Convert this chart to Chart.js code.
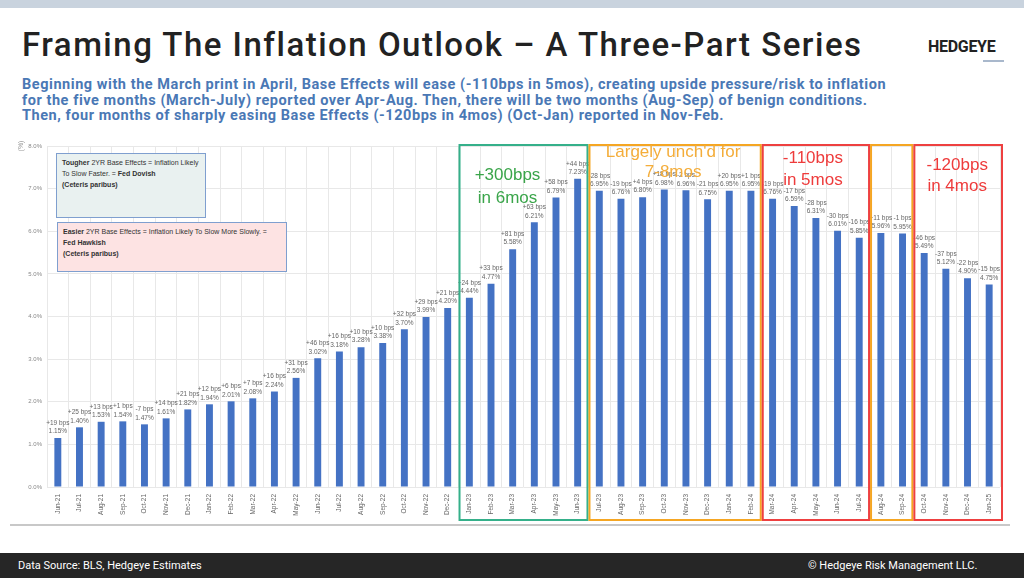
<!DOCTYPE html>
<html>
<head>
<meta charset="utf-8">
<script src="https://cdn.jsdelivr.net/npm/chart.js@4.4.0/dist/chart.umd.min.js"></script>
<style>
  body { margin: 0; width: 1024px; height: 578px; overflow: hidden; background: #fff; position: relative; font-family: Roboto, sans-serif; }
  #topband { position: absolute; left: 0; top: 0; width: 1024px; height: 8px; background: #c9d3de; }
  #title { position: absolute; left: 22px; top: 25px; font-size: 33px; font-weight: 500; color: #222; white-space: nowrap; letter-spacing: 1.5px; }
  #logo { position: absolute; left: 928px; top: 37px; font-size: 16px; font-weight: 700; color: #222; letter-spacing: -0.3px; }
  #logoBar { position: absolute; left: 983px; top: 60px; width: 21px; height: 2px; background: #a9b8cc; }
  #subtitle { position: absolute; left: 22px; top: 77px; font-size: 14.5px; font-weight: 700; color: #4a78b5; line-height: 15.5px; white-space: nowrap; letter-spacing: 0.55px; }
  #chartWrap { position: absolute; left: 0; top: 130px; width: 1024px; height: 400px; }
  .note { position: absolute; font-family: "Liberation Sans", Arial, sans-serif; font-size: 7px; line-height: 11px; color: #333; padding: 3px 5px; box-sizing: border-box; border: 1.5px solid #7f9fcf; }
  #note1 { left: 56px; top: 153px; width: 150px; height: 65px; background: #e9f1f0; }
  #note2 { left: 57px; top: 222px; width: 230px; height: 50px; background: #fde3e3; }
  #rule { position: absolute; left: 10px; top: 524px; width: 1000px; height: 2px; background: #c8c8c8; }
  #footer { position: absolute; left: 0; top: 553px; width: 1024px; height: 25px; background: #262626; color: #fff; font-size: 11px; }
  #footer .l { position: absolute; left: 18px; top: 6px; }
  #footer .r { position: absolute; left: 808px; top: 6px; }
</style>
</head>
<body>
<div id="topband"></div>
<div id="title">Framing The Inflation Outlook – A Three-Part Series</div>
<div id="logo">HEDGEYE</div>
<div id="logoBar"></div>
<div id="subtitle">Beginning with the March print in April, Base Effects will ease (-110bps in 5mos), creating upside pressure/risk to inflation<br>for the five months (March-July) reported over Apr-Aug. Then, there will be two months (Aug-Sep) of benign conditions.<br>Then, four months of sharply easing Base Effects (-120bps in 4mos) (Oct-Jan) reported in Nov-Feb.</div>
<div id="chartWrap"><canvas id="chart" width="1024" height="400"></canvas></div>
<div class="note" id="note1"><b>Tougher</b> 2YR Base Effects = Inflation Likely<br>To Slow Faster. = <b>Fed Dovish</b><br><b>(Ceteris paribus)</b></div>
<div class="note" id="note2"><b>Easier</b> 2YR Base Effects = Inflation Likely To Slow More Slowly. =<br><b>Fed Hawkish</b><br><b>(Ceteris paribus)</b></div>
<div id="rule"></div>
<div id="footer"><span class="l">Data Source: BLS, Hedgeye Estimates</span><span class="r">© Hedgeye Risk Management LLC.</span></div>

<script>
const months = [
    'Jun-21', 'Jul-21', 'Aug-21', 'Sep-21', 'Oct-21', 'Nov-21', 'Dec-21',
    'Jan-22', 'Feb-22', 'Mar-22', 'Apr-22', 'May-22', 'Jun-22', 'Jul-22', 'Aug-22', 'Sep-22', 'Oct-22', 'Nov-22', 'Dec-22',
    'Jan-23', 'Feb-23', 'Mar-23', 'Apr-23', 'May-23', 'Jun-23', 'Jul-23', 'Aug-23', 'Sep-23', 'Oct-23', 'Nov-23', 'Dec-23',
    'Jan-24', 'Feb-24', 'Mar-24', 'Apr-24', 'May-24', 'Jun-24', 'Jul-24', 'Aug-24', 'Sep-24', 'Oct-24', 'Nov-24', 'Dec-24',
    'Jan-25'
];
const inflationValues = [
    1.15, 1.40, 1.53, 1.54, 1.47, 1.61, 1.82,
    1.94, 2.01, 2.08, 2.24, 2.56, 3.02, 3.18, 3.28, 3.38, 3.70, 3.99, 4.20,
    4.44, 4.77, 5.58, 6.21, 6.79, 7.23, 6.95, 6.76, 6.80, 6.98, 6.96, 6.75,
    6.95, 6.95, 6.76, 6.59, 6.31, 6.01, 5.85, 5.96, 5.95, 5.49, 5.12, 4.90,
    4.75
];
const bpsChanges = [
    19, 25, 13, 1, -7, 14, 21,
    12, 6, 7, 16, 31, 46, 16, 10, 10, 32, 29, 21,
    24, 33, 81, 63, 58, 44, -28, -19, 4, 18, -2, -21,
    20, 1, -19, -17, -28, -30, -16, 11, -1, -46, -37, -22,
    -15
];
const yTicks = [0, 1, 2, 3, 4, 5, 6, 7, 8];

// highlighted periods
const periods = [
    { from: 'Jan-23', to: 'Jun-23', color: '#35b08a', text: ['+300bps', 'in 6mos'], textColor: '#3aa54a', dx: -16, ty: [45, 68] },
    { from: 'Jul-23', to: 'Feb-24', color: '#f5a623', text: ["Largely unch'd for", '7-8mos'], textColor: '#f4ad3a', dx: -2, ty: [22, 42] },
    { from: 'Mar-24', to: 'Jul-24', color: '#ee4040', text: ['-110bps', 'in 5mos'], textColor: '#ee3b3b', dx: -3, ty: [28, 50] },
    { from: 'Aug-24', to: 'Sep-24', color: '#f5a623', text: [], textColor: '#f4ad3a', dx: 0, ty: [] },
    { from: 'Oct-24', to: 'Jan-25', color: '#ee4040', text: ['-120bps', 'in 4mos'], textColor: '#ee3b3b', dx: -1, ty: [35, 56] }
];

function fmtBps(v) {
    return (v >= 0 ? '+' : '') + v + ' bps';
}

const overlayPlugin = {
    id: 'overlay',
    afterDatasetsDraw(chart) {
        const ctx = chart.ctx;
        const x = chart.scales.x;
        ctx.save();
        ctx.font = '6.5px "Liberation Sans", Arial, sans-serif';
        ctx.fillStyle = '#666';
        ctx.textAlign = 'center';
        ctx.textBaseline = 'middle';
        chart.getDatasetMeta(0).data.forEach((bar, i) => {
            ctx.fillText(fmtBps(bpsChanges[i]), bar.x, bar.y - 15);
            ctx.fillText(inflationValues[i].toFixed(2) + '%', bar.x, bar.y - 6.5);
        });

        // y axis unit
        ctx.save();
        ctx.translate(21, 16);
        ctx.rotate(-Math.PI / 2);
        ctx.fillStyle = '#999';
        ctx.font = '7px "Liberation Sans", Arial, sans-serif';
        ctx.fillText('(%)', 0, 0);
        ctx.restore();

        const half = (x.getPixelForValue(1) - x.getPixelForValue(0)) / 2;
        periods.forEach(p => {
            const left = x.getPixelForValue(months.indexOf(p.from)) - half + 1;
            let right = x.getPixelForValue(months.indexOf(p.to)) + half - 1;
            if (p.to === months[months.length - 1]) right += 3;
            ctx.strokeStyle = p.color;
            ctx.lineWidth = 2;
            ctx.strokeRect(left, 15, right - left, 375);
            ctx.fillStyle = p.textColor;
            ctx.font = '17px "Liberation Sans", Arial, sans-serif';
            p.text.forEach((t, k) => {
                ctx.fillText(t, (left + right) / 2 + p.dx, p.ty[k]);
            });
        });
        ctx.restore();
    }
};

new Chart(document.getElementById('chart'), {
    type: 'bar',
    data: {
        labels: months,
        datasets: [{
            label: 'Inflation',
            data: inflationValues,
            backgroundColor: '#4472c4',
            barPercentage: 0.32,
            categoryPercentage: 1
        }]
    },
    options: {
        responsive: false,
        animation: false,
        devicePixelRatio: 1,
        layout: { padding: { top: 16, left: 0, right: 24, bottom: 0 } },
        plugins: { legend: { display: false }, tooltip: { enabled: false } },
        scales: {
            x: {
                afterFit: s => { s.height = 43; },
                border: { display: false },
                grid: { color: '#e8e8e8', drawTicks: false },
                ticks: {
                    color: '#666',
                    font: { family: '"Liberation Sans", Arial, sans-serif', size: 6.5 },
                    minRotation: 90, maxRotation: 90,
                    padding: 7,
                    autoSkip: false
                }
            },
            y: {
                min: 0, max: 8,
                afterFit: s => { s.width = 47; },
                afterBuildTicks: s => { s.ticks = yTicks.map(v => ({ value: v })); },
                border: { display: false },
                grid: { color: '#e8e8e8', drawTicks: false },
                ticks: {
                    color: '#888',
                    font: { family: '"Liberation Sans", Arial, sans-serif', size: 6 },
                    padding: 5,
                    callback: v => v.toFixed(1) + '%'
                }
            }
        }
    },
    plugins: [overlayPlugin]
});
</script>
</body>
</html>
